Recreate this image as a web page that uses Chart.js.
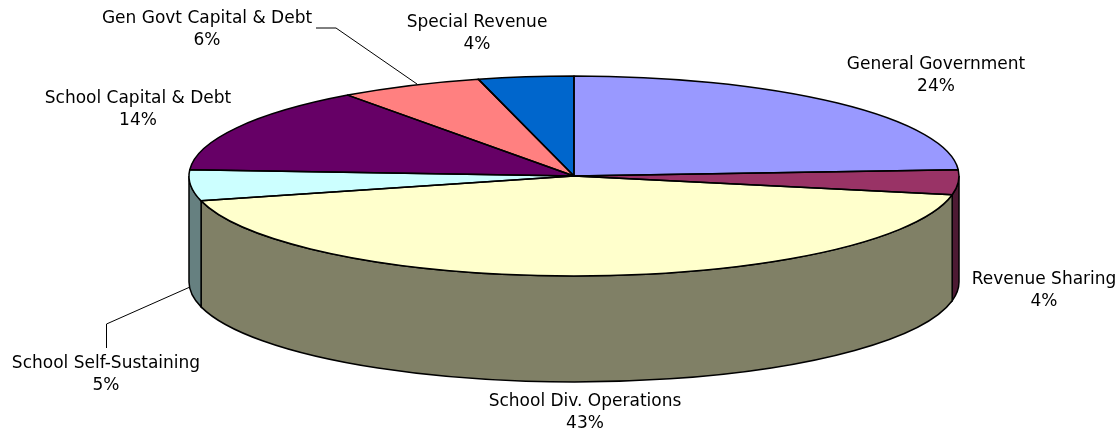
<!DOCTYPE html>
<html>
<head>
<meta charset="utf-8">
<style>html,body{margin:0;padding:0;background:#fff}#wrap{width:1120px;height:432px}</style>
<script src="https://cdn.jsdelivr.net/npm/chart.js@4/dist/chart.umd.js"></script>
</head>
<body>
<div id="wrap"><canvas id="c" width="1120" height="432"></canvas></div>
<script>
const categories = ['General Government','Revenue Sharing','School Div. Operations','School Self-Sustaining','School Capital & Debt','Gen Govt Capital & Debt','Special Revenue'];
const shares = [24, 4, 43, 5, 14, 6, 4];
const topColors = ['#9999FF','#993366','#FFFFCC','#CCFFFF','#660066','#FF8080','#0066CC'];
const wallColors = ['#4D4D80','#4D1A33','#808066','#668080','#330033','#804040','#003366'];

// Layout of the tilted disc
const TILT = 100 / 385, RADIUS = 385, DEPTH = 106;
const CX = 574, CY = 176;
const OUTLINE = 1.5;

// Anchor of each two-line label (centre x, first baseline y)
const labelAnchors = [[936,69],[1044,284],[585,406],[106,368],[138,103],[207,23],[477,27]];
// Leader polylines for the two outside callouts
const leaders = [
  [[190,287],[106.5,324],[106.5,348]],
  [[417,84],[336,28],[316,28]]
];

const tiltedDisc = {
  id: 'tiltedDisc',
  beforeDatasetsDraw(chart) {
    const ctx = chart.ctx;
    const arcs = chart.getDatasetMeta(0).data;
    const {x, y, outerRadius: r} = arcs[0];
    ctx.save();
    ctx.strokeStyle = '#000';
    ctx.lineWidth = OUTLINE;
    // Side wall: only the part of each slice on the near half of the rim
    arcs.forEach((arc, i) => {
      const a0 = Math.max(arc.startAngle, 0);
      const a1 = Math.min(arc.endAngle, Math.PI);
      if (a1 <= a0) return;
      ctx.beginPath();
      ctx.ellipse(x, y, r, r * TILT, 0, a0, a1);
      ctx.lineTo(x + r * Math.cos(a1), y + r * TILT * Math.sin(a1) + DEPTH);
      ctx.ellipse(x, y + DEPTH, r, r * TILT, 0, a1, a0, true);
      ctx.closePath();
      ctx.fillStyle = wallColors[i];
      ctx.fill();
      ctx.stroke();
    });
    ctx.restore();
    // Squash the round pie into an ellipse for the top face
    ctx.save();
    ctx.translate(x, y);
    ctx.scale(1, TILT);
    ctx.translate(-x, -y);
  },
  afterDatasetsDraw(chart) {
    const ctx = chart.ctx;
    ctx.restore();
    const arcs = chart.getDatasetMeta(0).data;
    ctx.save();
    ctx.strokeStyle = '#000';
    // Slice outlines are stroked unsquashed so their weight stays even
    ctx.lineWidth = OUTLINE;
    ctx.lineJoin = 'round';
    arcs.forEach(arc => {
      const {x, y, outerRadius: r, startAngle, endAngle} = arc;
      ctx.beginPath();
      ctx.moveTo(x, y);
      ctx.ellipse(x, y, r, r * TILT, 0, startAngle, endAngle);
      ctx.closePath();
      ctx.stroke();
    });
    ctx.lineWidth = 1;
    leaders.forEach(pts => {
      ctx.beginPath();
      pts.forEach(([px, py], k) => k ? ctx.lineTo(px, py) : ctx.moveTo(px, py));
      ctx.stroke();
    });
    ctx.fillStyle = '#000';
    ctx.font = '17px "DejaVu Sans"';
    ctx.textAlign = 'center';
    categories.forEach((name, i) => {
      const [lx, ly] = labelAnchors[i];
      ctx.fillText(name, lx, ly);
      ctx.fillText(shares[i] + '%', lx, ly + 22);
    });
    ctx.restore();
  }
};

new Chart(document.getElementById('c'), {
  type: 'pie',
  data: {
    labels: categories,
    datasets: [{
      data: shares,
      backgroundColor: topColors,
      borderWidth: 0,
      radius: RADIUS
    }]
  },
  options: {
    responsive: false,
    animation: false,
    // Padding places the pie centre at (CX, CY) inside the canvas
    layout: { padding: { left: CX * 2 - 1120, top: 0, right: 0, bottom: 432 - CY * 2 } },
    plugins: { legend: { display: false }, tooltip: { enabled: false } }
  },
  plugins: [tiltedDisc]
});
</script>
</body>
</html>
